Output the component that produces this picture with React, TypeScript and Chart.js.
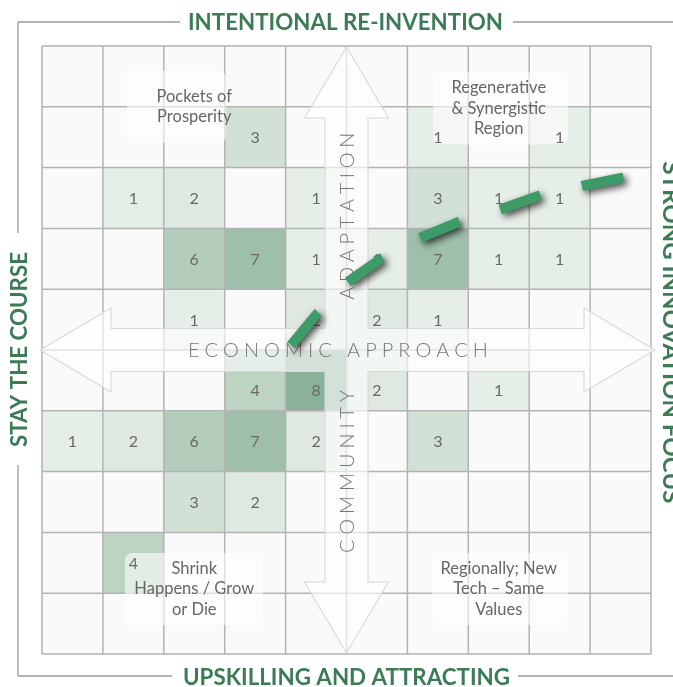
import React, { useEffect, useRef } from 'react';
import { Chart, registerables } from 'chart.js';

Chart.register(...registerables);

// ---------------- data ----------------
const COLUMNS = [0, 1, 2, 3, 4, 5, 6, 7, 8, 9];
// counts per cell, rows listed from the top of the grid downwards
const ROW_1 = [0, 0, 0, 0, 0, 0, 0, 0, 0, 0];
const ROW_2 = [0, 0, 0, 3, 0, 0, 1, 0, 1, 0];
const ROW_3 = [0, 1, 2, 0, 1, 0, 3, 1, 1, 0];
const ROW_4 = [0, 0, 6, 7, 1, 1, 7, 1, 1, 0];
const ROW_5 = [0, 0, 1, 0, 2, 2, 1, 0, 0, 0];
const ROW_6 = [0, 0, 0, 4, 8, 2, 0, 1, 0, 0];
const ROW_7 = [1, 2, 6, 7, 2, 0, 3, 0, 0, 0];
const ROW_8 = [0, 0, 3, 2, 0, 0, 0, 0, 0, 0];
const ROW_9 = [0, 4, 0, 0, 0, 0, 0, 0, 0, 0];
const ROW_10 = [0, 0, 0, 0, 0, 0, 0, 0, 0, 0];
const ROWS_TOP_DOWN = [ROW_1, ROW_2, ROW_3, ROW_4, ROW_5, ROW_6, ROW_7, ROW_8, ROW_9, ROW_10];

// trend path (grid units, y up)
const TREND_X = [4.09, 4.53, 5.02, 5.58, 6.22, 6.88, 7.52, 8.19, 8.87, 9.52, 10.23];
const TREND_Y = [5.08, 5.61, 6.12, 6.51, 6.85, 7.12, 7.31, 7.55, 7.7, 7.83, 7.96];

const TITLE_TOP = 'INTENTIONAL RE-INVENTION';
const TITLE_BOTTOM = 'UPSKILLING AND ATTRACTING';
const TITLE_LEFT = 'STAY THE COURSE';
const TITLE_RIGHT = 'STRONG INNOVATION FOCUS';
const AXIS_H = 'ECONOMIC APPROACH';
const AXIS_UP = 'ADAPTATION';
const AXIS_DOWN = 'COMMUNITY';
const Q_TL = ['Pockets of', 'Prosperity'];
const Q_TR = ['Regenerative', '& Synergistic', 'Region'];
const Q_BL = ['Shrink', 'Happens / Grow', 'or Die'];
const Q_BR = ['Regionally; New', 'Tech – Same', 'Values'];

// ---------------- style ----------------
const N = 10;
const GREEN = '#3b7b55';
const GRID_LINE = '#b3b3b3';
const EMPTY_CELL = '#fafafa';
const SHADES: Record<number, string> = {
  1: '#e6eee8',
  2: '#dfe9e2',
  3: '#d1e1d6',
  4: '#bdd3c4',
  5: '#b8d0c0',
  6: '#b3ccbc',
  7: '#9ebfaa',
  8: '#8bb19a',
};
const LINE_INDEX = ROWS_TOP_DOWN.length;

function fitCaps(ctx: CanvasRenderingContext2D, text: string, cx: number, cy: number, width: number, angle: number, size: number) {
  ctx.save();
  ctx.translate(cx, cy);
  ctx.rotate(angle);
  const w = ctx.measureText(text).width;
  ctx.scale(width / w, 1);
  ctx.textAlign = 'center';
  ctx.textBaseline = 'alphabetic';
  ctx.fillText(text, 0, size * 0.36);
  ctx.restore();
}

function spacedCaps(ctx: CanvasRenderingContext2D, text: string, cx: number, cy: number, length: number, angle: number, size: number) {
  ctx.save();
  ctx.translate(cx, cy);
  ctx.rotate(angle);
  ctx.textAlign = 'left';
  ctx.textBaseline = 'alphabetic';
  const chars = text.split('');
  const widths = chars.map((ch) => ctx.measureText(ch).width);
  const total = widths.reduce((a, b) => a + b, 0);
  const gap = (length - total) / (chars.length - 1);
  let px = -length / 2;
  chars.forEach((ch, i) => {
    ctx.fillText(ch, px, size * 0.36);
    px += widths[i] + gap;
  });
  ctx.restore();
}

function roundRect(ctx: CanvasRenderingContext2D, x: number, y: number, w: number, h: number, r: number) {
  ctx.beginPath();
  ctx.moveTo(x + r, y);
  ctx.lineTo(x + w - r, y);
  ctx.quadraticCurveTo(x + w, y, x + w, y + r);
  ctx.lineTo(x + w, y + h - r);
  ctx.quadraticCurveTo(x + w, y + h, x + w - r, y + h);
  ctx.lineTo(x + r, y + h);
  ctx.quadraticCurveTo(x, y + h, x, y + h - r);
  ctx.lineTo(x, y + r);
  ctx.quadraticCurveTo(x, y, x + r, y);
  ctx.closePath();
}

const overlayPlugin = {
  id: 'quadrantOverlay',
  beforeDraw(chart: any) {
    const ctx: CanvasRenderingContext2D = chart.ctx;
    ctx.save();
    // frame
    ctx.strokeStyle = '#9c9c9c';
    ctx.lineWidth = 1.3;
    ctx.beginPath();
    ctx.moveTo(18, 22); ctx.lineTo(180, 22);
    ctx.moveTo(513, 22); ctx.lineTo(673, 22);
    ctx.moveTo(18, 22); ctx.lineTo(18, 233);
    ctx.moveTo(18, 465); ctx.lineTo(18, 676);
    ctx.moveTo(18, 676); ctx.lineTo(172, 676);
    ctx.moveTo(518, 676); ctx.lineTo(673, 676);
    ctx.stroke();
    // titles
    ctx.fillStyle = GREEN;
    ctx.font = '700 23px Lato';
    fitCaps(ctx, TITLE_TOP, 345.5, 22, 315, 0, 23);
    fitCaps(ctx, TITLE_BOTTOM, 346.5, 677, 327, 0, 23);
    fitCaps(ctx, TITLE_LEFT, 18.3, 349.5, 195, -Math.PI / 2, 23);
    fitCaps(ctx, TITLE_RIGHT, 671.6, 332.5, 342, Math.PI / 2, 23);
    ctx.restore();
  },
  beforeDatasetDraw(chart: any, args: any) {
    if (args.index !== LINE_INDEX) return;
    const ctx: CanvasRenderingContext2D = chart.ctx;
    const area = chart.chartArea;
    const xs = chart.scales.x;
    const ys = chart.scales.y;
    ctx.save();

    // grid lines
    ctx.strokeStyle = GRID_LINE;
    ctx.lineWidth = 1.5;
    ctx.beginPath();
    for (let i = 0; i <= N; i++) {
      const px = xs.getPixelForValue(i);
      ctx.moveTo(px, area.top);
      ctx.lineTo(px, area.bottom);
      const py = ys.getPixelForValue(i);
      ctx.moveTo(area.left, py);
      ctx.lineTo(area.right, py);
    }
    ctx.stroke();

    // big cross arrow
    const cx = xs.getPixelForValue(5);
    const cy = ys.getPixelForValue(5);
    const L = area.left - 2;
    const R = area.right + 4;
    const T = area.top + 1;
    const B = area.bottom - 1;
    const hl = 71;
    const hw = 42;
    const bw = 21.5;
    const pts: [number, number][] = [
      [cx, T], [cx + hw, T + hl], [cx + bw, T + hl], [cx + bw, cy - bw],
      [R - hl, cy - bw], [R - hl, cy - hw], [R, cy], [R - hl, cy + hw], [R - hl, cy + bw],
      [cx + bw, cy + bw], [cx + bw, B - hl], [cx + hw, B - hl], [cx, B], [cx - hw, B - hl],
      [cx - bw, B - hl], [cx - bw, cy + bw], [L + hl, cy + bw], [L + hl, cy + hw], [L, cy],
      [L + hl, cy - hw], [L + hl, cy - bw], [cx - bw, cy - bw], [cx - bw, T + hl], [cx - hw, T + hl],
    ];
    ctx.beginPath();
    pts.forEach(([px, py], i) => (i === 0 ? ctx.moveTo(px, py) : ctx.lineTo(px, py)));
    ctx.closePath();
    ctx.fillStyle = 'rgba(255,255,255,0.62)';
    ctx.fill();
    ctx.strokeStyle = '#d8d8d8';
    ctx.lineWidth = 1.1;
    ctx.stroke();

    // quadrant label boxes
    const quads = [
      { lines: Q_TL, x: 2.5, y: 9.0, left: 127, right: 226 },
      { lines: Q_TR, x: 7.5, y: 8.97, left: 433, right: 568 },
      { lines: Q_BL, x: 2.5, y: 1.07, left: 125, right: 263 },
      { lines: Q_BR, x: 7.5, y: 1.07, left: 432, right: 568 },
    ];
    const lh = 20.5;
    ctx.textAlign = 'center';
    ctx.textBaseline = 'middle';
    quads.forEach((q) => {
      const qy = ys.getPixelForValue(q.y);
      ctx.fillStyle = 'rgba(255,255,255,0.58)';
      roundRect(ctx, q.left, qy - 36, q.right - q.left, 72, 8);
      ctx.fill();
    });

    // cell counts
    ctx.font = '400 16px Lato';
    ctx.fillStyle = '#696969';
    ROWS_TOP_DOWN.forEach((row, r) => {
      row.forEach((v, c) => {
        if (!v) return;
        const px = xs.getPixelForValue(c + 0.5);
        const py = ys.getPixelForValue(N - r - 0.5) + (r === 5 ? 9 : 0);
        ctx.fillText(String(v), px, py + 1);
      });
    });

    ctx.font = '400 16.5px Lato';
    ctx.fillStyle = '#676767';
    quads.forEach((q) => {
      const qx = xs.getPixelForValue(q.x);
      const qy = ys.getPixelForValue(q.y);
      const n = q.lines.length;
      q.lines.forEach((t, i) => {
        ctx.fillText(t, qx, qy + (i - (n - 1) / 2) * lh);
      });
    });

    // axis words
    ctx.fillStyle = '#767676';
    ctx.font = '300 20px Lato';
    spacedCaps(ctx, AXIS_H, xs.getPixelForValue(4.86), ys.getPixelForValue(5), 300, 0, 20);
    spacedCaps(ctx, AXIS_UP, xs.getPixelForValue(5), ys.getPixelForValue(7.2), 167, -Math.PI / 2, 20);
    spacedCaps(ctx, AXIS_DOWN, xs.getPixelForValue(5), ys.getPixelForValue(3.0), 163, -Math.PI / 2, 20);
    ctx.restore();

    // shadow for the trend dashes
    ctx.save();
    ctx.shadowColor = 'rgba(0,0,0,0.7)';
    ctx.shadowBlur = 7;
    ctx.shadowOffsetX = 3;
    ctx.shadowOffsetY = 3;
  },
  afterDatasetDraw(chart: any, args: any) {
    if (args.index !== LINE_INDEX) return;
    chart.ctx.restore();
  },
};

export default function App() {
  const ref = useRef<HTMLCanvasElement>(null);
  useEffect(() => {
    const canvas = ref.current;
    if (!canvas) return;
    const barDatasets = ROWS_TOP_DOWN.map((row, r) => ({
      type: 'bar' as const,
      label: 'row ' + (r + 1),
      data: COLUMNS.map((c) => ({ x: c + 0.5, y: [N - 1 - r, N - r] })),
      backgroundColor: row.map((v) => (v > 0 ? SHADES[v] : EMPTY_CELL)),
      borderWidth: 0,
      grouped: false,
      barPercentage: 1,
      categoryPercentage: 1,
      order: 1,
    }));
    const trendDataset = {
      type: 'line' as const,
      label: 'trend',
      data: TREND_X.map((x, i) => ({ x, y: TREND_Y[i] })),
      borderColor: '#3d9b67',
      borderWidth: 10,
      borderDash: [42.5, 42.5],
      borderCapStyle: 'butt',
      pointRadius: 0,
      tension: 0,
      fill: false,
      clip: false,
      order: 0,
    };
    const chart = new Chart(canvas, {
      type: 'bar',
      data: { datasets: [...barDatasets, trendDataset] as any },
      options: {
        responsive: false,
        animation: false,
        events: [],
        devicePixelRatio: 1,
        layout: { padding: { left: 42, right: 22, top: 46, bottom: 33 } },
        plugins: {
          legend: { display: false },
          tooltip: { enabled: false },
          title: { display: false },
        },
        scales: {
          x: { type: 'linear', min: 0, max: 10, offset: false, display: false, ticks: { stepSize: 1 } },
          y: { type: 'linear', min: 0, max: 10, display: false, ticks: { stepSize: 1 } },
        },
      } as any,
      plugins: [overlayPlugin as any],
    });
    return () => chart.destroy();
  }, []);
  return (
    <div style={{ position: 'fixed', left: 0, top: 0, width: 673, height: 687, background: '#fff' }}>
      <canvas ref={ref} width={673} height={687} style={{ display: 'block', width: 673, height: 687 }} />
    </div>
  );
}
